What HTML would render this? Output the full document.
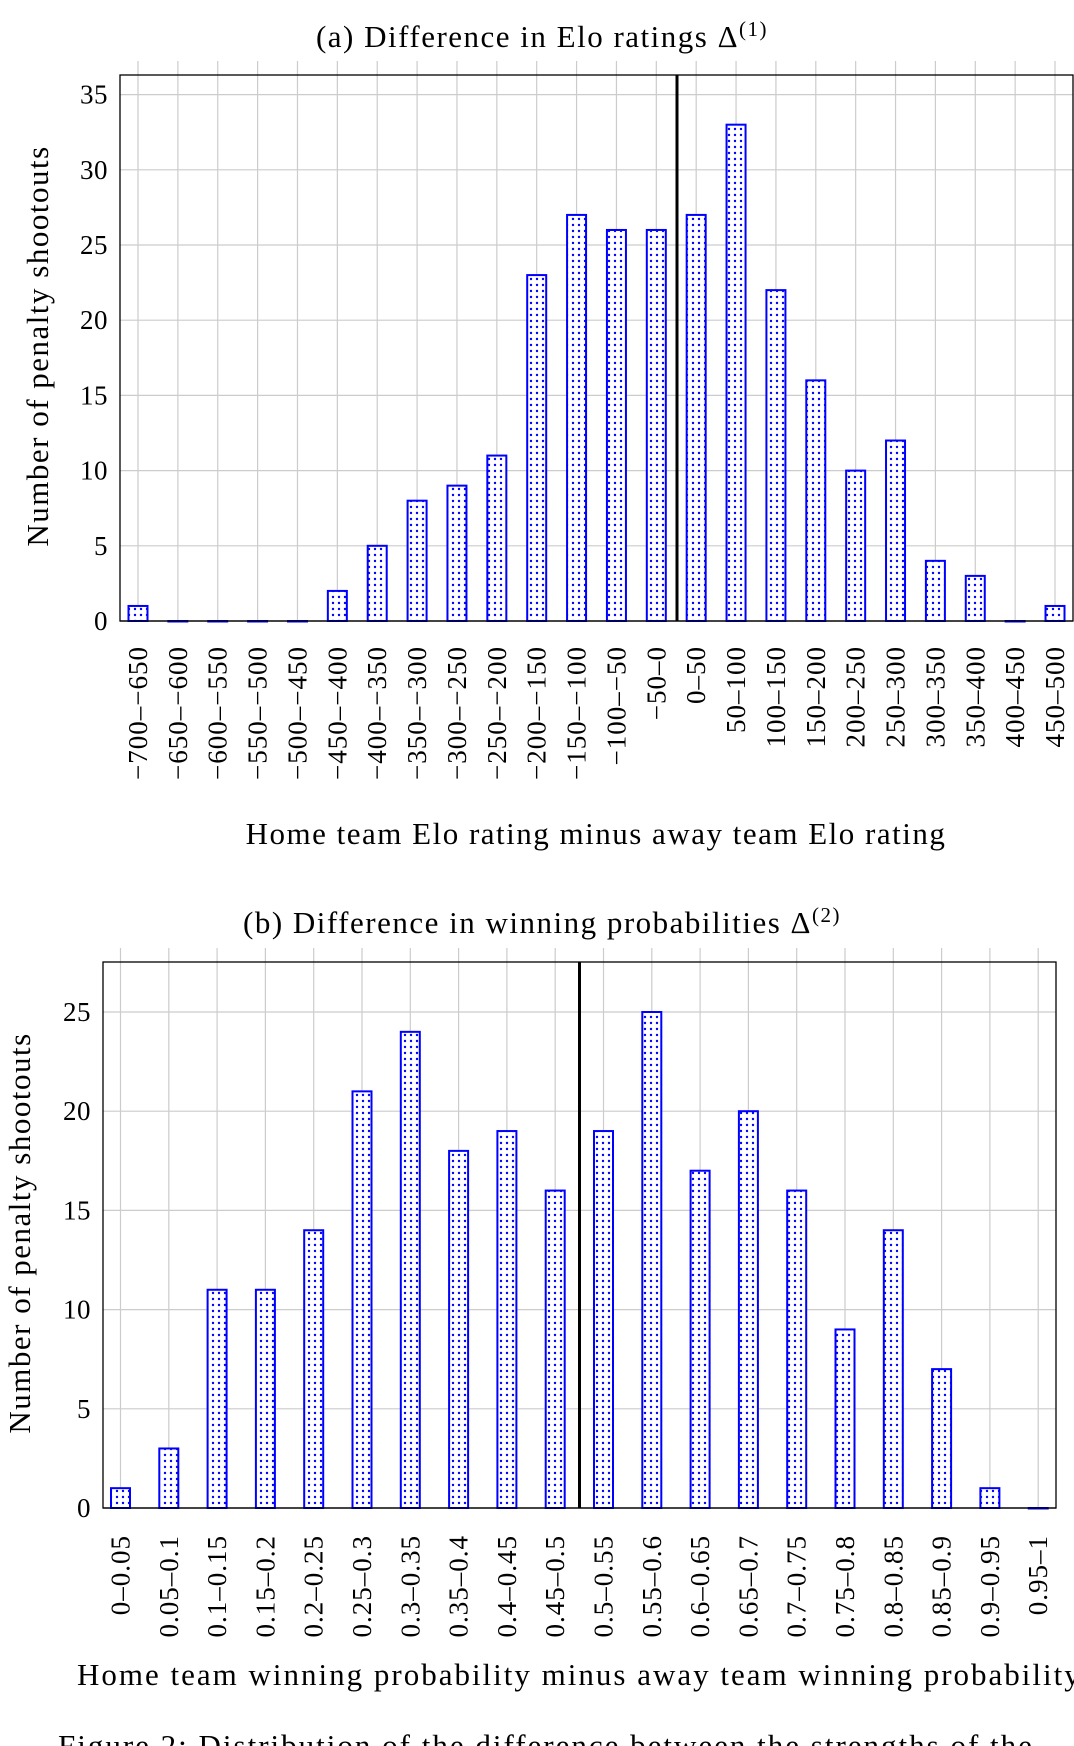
<!DOCTYPE html>
<html><head><meta charset="utf-8"><style>
html,body{margin:0;padding:0;background:#fff;width:1074px;height:1746px;overflow:hidden}
text{font-family:"Liberation Serif","DejaVu Serif",serif;fill:#000}
</style></head><body>
<svg width="1074" height="1746" viewBox="0 0 1074 1746" xmlns="http://www.w3.org/2000/svg">
<defs>
<pattern id="dots" width="6" height="6" patternUnits="userSpaceOnUse">
<rect width="6" height="6" fill="#fff"/><circle cx="3" cy="3" r="1.2" fill="#00f"/>
</pattern>
</defs>
<g id="a"></g>
<g id="b"></g>
<text x="58" y="1756" font-size="31" letter-spacing="2">Figure 2: Distribution of the difference between the strengths of the</text>
</svg>
<script>
const NS="http://www.w3.org/2000/svg";
function el(p,t,a,txt){const e=document.createElementNS(NS,t);for(const k in a)e.setAttribute(k,a[k]);if(txt!==undefined)e.textContent=txt;p.appendChild(e);return e;}
function chart(g,o){
 for(let v=0;v<=o.ymax;v+=5){const y=o.base-v*o.unit;
  if(v>0)el(g,'line',{x1:o.left,x2:o.right,y1:y,y2:y,stroke:'#ccc','stroke-width':1.2});
  el(g,'text',{x:o.left-12,y:y+9,'font-size':27,'text-anchor':'end','letter-spacing':0.5},v);}
 o.data.forEach((d,i)=>{const x=o.x0+i*o.dx;
  el(g,'line',{x1:x,x2:x,y1:o.top-14,y2:o.base,stroke:'#ccc','stroke-width':1.2});});
 el(g,'rect',{x:o.left,y:o.top,width:o.right-o.left,height:o.base-o.top,fill:'none',stroke:'#000','stroke-width':1.3});
 o.data.forEach((d,i)=>{const x=o.x0+i*o.dx;const h=d*o.unit;
  el(g,'rect',{x:x-9.5,y:o.base-h,width:19,height:Math.max(h,0.5),fill:'url(#dots)',stroke:'#00f','stroke-width':2});
  el(g,'text',{transform:`translate(${x+9},${o.lt}) rotate(-90)`,'font-size':27,'text-anchor':'end','letter-spacing':1},o.labels[i]);});
 el(g,'line',{x1:o.vl,x2:o.vl,y1:o.top,y2:o.base,stroke:'#000','stroke-width':3});
 el(g,'line',{x1:o.left,x2:o.right,y1:o.base,y2:o.base,stroke:'#000','stroke-width':1.3});
 el(g,'text',{transform:`translate(${o.ylx},${o.yly}) rotate(-90)`,'font-size':31,'text-anchor':'middle','letter-spacing':1.5},'Number of penalty shootouts');
}
const m='\u2212',n='\u2013';
let la=[];for(let v=-700;v<500;v+=50){const f=x=>x<0?m+(-x):''+x;la.push(f(v)+n+f(v+50));}
chart(document.getElementById('a'),{left:120,right:1073,top:75,base:621,unit:15.04,ymax:35,x0:138,dx:39.87,
 data:[1,0,0,0,0,2,5,8,9,11,23,27,26,26,27,33,22,16,10,12,4,3,0,1],labels:la,lt:646,vl:677,ylx:48,yly:346});
let lb=[];for(let i=0;i<20;i++){const f=x=>(+(x/20).toFixed(2)).toString();lb.push(f(i)+n+f(i+1));}
chart(document.getElementById('b'),{left:103,right:1056,top:962,base:1508,unit:19.84,ymax:25,x0:120.5,dx:48.3,
 data:[1,3,11,11,14,21,24,18,19,16,19,25,17,20,16,9,14,7,1,0],labels:lb,lt:1535,vl:579.5,ylx:30,yly:1233});
const A=document.getElementById('a'),B=document.getElementById('b');
const t1=el(A,'text',{x:542,y:47,'font-size':31,'text-anchor':'middle','letter-spacing':1.5},'(a) Difference in Elo ratings \u0394');
el(t1,'tspan',{dy:-11,'font-size':21},'(1)');
el(A,'text',{x:596,y:844,'font-size':31,'text-anchor':'middle','letter-spacing':1.5},'Home team Elo rating minus away team Elo rating');
const t2=el(B,'text',{x:542,y:933,'font-size':31,'text-anchor':'middle','letter-spacing':1.5},'(b) Difference in winning probabilities \u0394');
el(t2,'tspan',{dy:-11,'font-size':21},'(2)');
el(B,'text',{x:77,y:1685,'font-size':31,'letter-spacing':2},'Home team winning probability minus away team winning probability');
</script>
</body></html>
